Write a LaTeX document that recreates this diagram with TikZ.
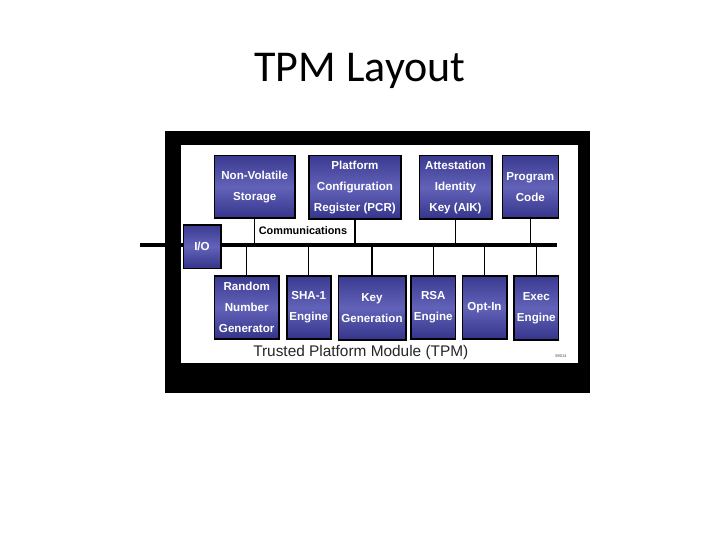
\documentclass[tikz,border=0pt]{standalone}
\usepackage{fontspec}
\setmainfont{Liberation Sans}
\newfontfamily\titlefont{Carlito}
\usepackage{xcolor}
\usetikzlibrary{positioning,calc}
\definecolor{boxtop}{HTML}{3A3A90}
\definecolor{boxmid}{HTML}{6262B8}
\definecolor{boxbot}{HTML}{34348A}

\begin{document}
\begin{tikzpicture}[x=1pt,y=-1pt, every node/.style={font=\fontsize{11.6}{21}\selectfont\bfseries}, box/.style={draw=black,line width=1.6pt,top color=boxtop,bottom color=boxbot,middle color=boxmid,text=white,align=center,inner sep=0pt}, bus/.style={line width=3.4pt}, link/.style={line width=1.3pt}]
\useasboundingbox (0,0) rectangle (720,540);
\fill[white] (0,0) rectangle (720,540);
\node[anchor=base,font=\titlefont\fontsize{44}{48}\selectfont] (title) at (360,82) {TPM Layout};
\fill[black] (165,131) rectangle (590,393);
\fill[white] (181,145) rectangle (578,363);
\coordinate (busL) at (140,245);
\coordinate (busR) at (557,245);
\draw[bus] (busL)--(busR);
\node[box,minimum width=80.7,minimum height=62.6] (nv) at (254.7,187) {Non-Volatile\\Storage};
\node[box,minimum width=91.7,minimum height=63.6] (pcr) at (354.9,187.5) {Platform\\Configuration\\Register (PCR)};
\node[box,minimum width=72.4,minimum height=63.6] (aik) at (455.5,187.5) {Attestation\\Identity\\Key (AIK)};
\node[box,minimum width=56,minimum height=62.6] (prog) at (530.3,187) {Program\\Code};
\node[box,minimum width=37.4,minimum height=43.5] (io) at (202,246.7) {I/O};
\node[box,minimum width=64.7,minimum height=63] (rng) at (246.7,307.5) {Random\\Number\\Generator};
\node[box,minimum width=44,minimum height=63] (sha) at (308.7,307.5) {SHA-1\\Engine};
\node[box,minimum width=67.4,minimum height=64] (kg) at (372,308) {Key\\Generation};
\node[box,minimum width=44.7,minimum height=63] (rsa) at (433.3,307.5) {RSA\\Engine};
\node[box,minimum width=44.4,minimum height=63] (opt) at (484.5,307.5) {Opt-In};
\node[box,minimum width=44.7,minimum height=64] (exe) at (536.3,308) {Exec\\Engine};
\node[font=\fontsize{10.9}{12}\selectfont\bfseries] (comm) at (303,231) {Communications};
\node[font=\fontsize{15.4}{18}\selectfont,text=black!85] (tpm) at (360.8,353) {Trusted Platform Module (TPM)};
\node[font=\fontsize{4}{5}\selectfont,text=black!70] (tag) at (561,356) {98014};
\foreach \b in {nv,pcr,aik,prog}
  \draw[link] (\b.south)--(\b.south |- busL);
\foreach \b in {rng,sha,kg,rsa,opt,exe}
  \draw[link] (\b.north |- busL)--(\b.north);
\end{tikzpicture}
\end{document}
